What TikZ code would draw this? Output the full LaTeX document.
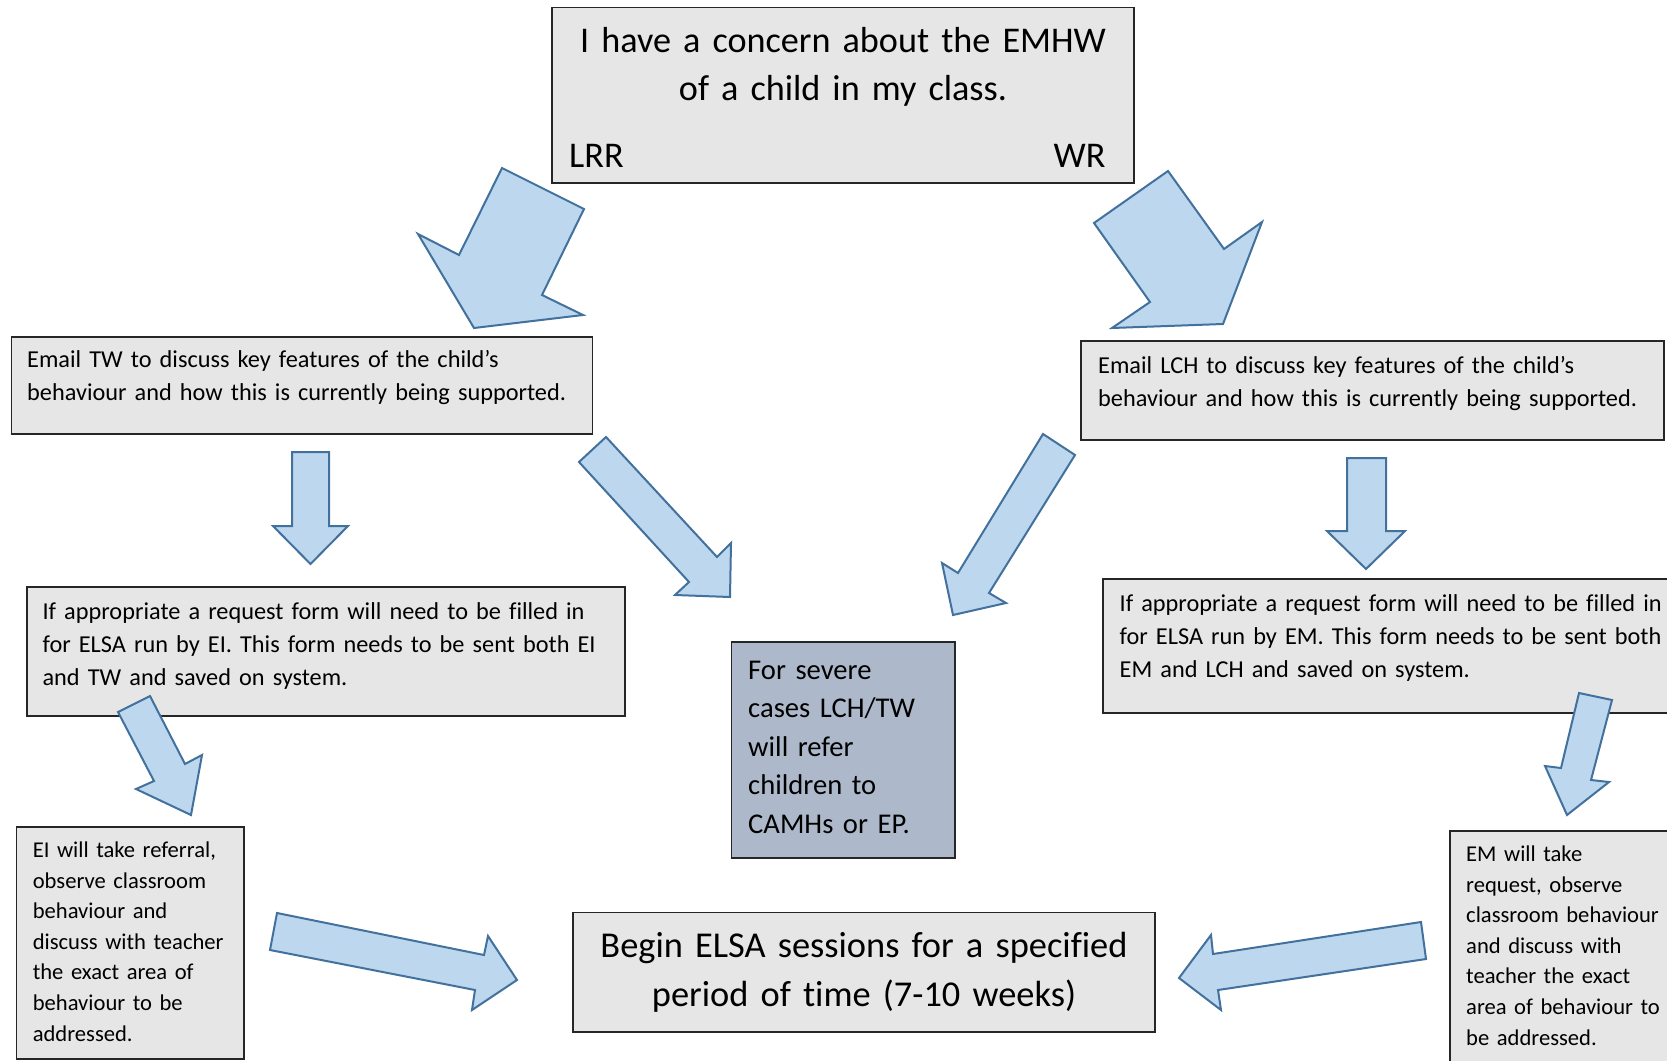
\documentclass[tikz,border=0pt]{standalone}
\usepackage{fontspec}
\setmainfont{Carlito}[Ligatures=NoCommon, WordSpace=0.85]
\definecolor{boxgray}{HTML}{E7E6E6}
\definecolor{sevblue}{HTML}{ADB9CA}
\definecolor{arrfill}{HTML}{BDD7EE}
\definecolor{arrline}{HTML}{41719C}
\newcommand\fsTop{\fontsize{36.2}{48.8}\selectfont}
\newcommand\fsMid{\fontsize{24.3}{33.2}\selectfont}
\newcommand\fsSmall{\fontsize{22.6}{30.6}\selectfont}
\newcommand\fsSev{\fontsize{28.6}{38.6}\selectfont}
\newcommand\fsBeg{\fontsize{36.4}{49.8}\selectfont}
\tikzset{
  panel/.style={draw=black!85, fill=boxgray, line width=1.4pt, anchor=north west, inner sep=0pt, outer sep=0pt},
  blockarrow/.style={fill=arrfill, draw=arrline, line width=2pt, line join=miter},
  txt/.style={anchor=base west, inner sep=0pt, align=left, text width=620pt},
  ctxt/.style={anchor=base, inner sep=0pt, align=center, text width=600pt},
}
\begin{document}
\begin{tikzpicture}[x=1pt,y=-1pt]
\useasboundingbox (0,0) rectangle (1667,1060);
\clip (0,0) rectangle (1667,1060);
\fill[white] (0,0) rectangle (1667,1060);

% boxes
\node[panel, minimum width=582pt, minimum height=175.5pt] (top) at (552,7.5) {};
\node[panel, minimum width=581pt, minimum height=97pt] (tw) at (11.7,337) {};
\node[panel, minimum width=583pt, minimum height=99pt] (lch) at (1081,341) {};
\node[panel, minimum width=598pt, minimum height=129pt] (reqL) at (27,587) {};
\node[panel, minimum width=590pt, minimum height=134pt] (reqR) at (1103,579) {};
\node[panel, fill=sevblue, minimum width=223.5pt, minimum height=216pt] (sev) at (731.5,642) {};
\node[panel, minimum width=227.5pt, minimum height=232pt] (ei) at (16.5,827) {};
\node[panel, minimum width=240pt, minimum height=250pt] (em) at (1450,831) {};
\node[panel, minimum width=582pt, minimum height=119.5pt] (begin) at (573,912.5) {};

% texts
\node[ctxt, font=\fsTop] (toptext) at (843,52) {I have a concern about the EMHW\\of a child in my class.};
\node[anchor=base west, inner sep=0pt, font=\fsTop] (lrr) at (569,167) {LRR};
\node[anchor=base east, inner sep=0pt, font=\fsTop] (wr) at (1105.6,167) {WR};
\node[txt, font=\fsMid] (twtext) at (27,367.5) {Email TW to discuss key features of the child’s\\behaviour and how this is currently being supported.};
\node[txt, font=\fsMid] (lchtext) at (1098,373) {Email LCH to discuss key features of the child’s\\behaviour and how this is currently being supported.};
\node[txt, font=\fsMid] (reqLtext) at (42.4,619.5) {If appropriate a request form will need to be filled in\\for ELSA run by EI. This form needs to be sent both EI\\and TW and saved on system.};
\node[txt, font=\fsMid] (reqRtext) at (1119.5,611.5) {If appropriate a request form will need to be filled in\\for ELSA run by EM. This form needs to be sent both\\EM and LCH and saved on system.};
\node[txt, font=\fsSev] (sevtext) at (748,679) {For severe\\cases LCH/TW\\will refer\\children to\\CAMHs or EP.};
\node[txt, font=\fsSmall] (eitext) at (32.6,857.5) {EI will take referral,\\observe classroom\\behaviour and\\discuss with teacher\\the exact area of\\behaviour to be\\addressed.};
\node[txt, font=\fsSmall] (emtext) at (1466,861.5) {EM will take\\request, observe\\classroom behaviour\\and discuss with\\teacher the exact\\area of behaviour to\\be addressed.};
\node[ctxt, font=\fsBeg] (begintext) at (864,957) {Begin ELSA sessions for a specified\\period of time (7-10 weeks)};

% block arrows
\draw[blockarrow] (502,168) -- (584,209) -- (542,295) -- (583,315) -- (474,328) -- (418,234) -- (459,255) -- cycle;
\draw[blockarrow] (1094,223) -- (1168,171) -- (1224,249) -- (1262,222) -- (1223,324) -- (1112,328) -- (1150,302) -- cycle;
\draw[blockarrow] (292,452) -- (329,452) -- (329,526) -- (348,526) -- (310.5,564) -- (273,526) -- (292,526) -- cycle;
\draw[blockarrow] (1347,458) -- (1386,458) -- (1386,531) -- (1405,531) -- (1366,569) -- (1327,531) -- (1347,531) -- cycle;
\draw[blockarrow] (606,437) -- (579,462) -- (689,582) -- (675,595) -- (730,597) -- (731,543) -- (717,557) -- cycle;
\draw[blockarrow] (1043,434) -- (1075,455) -- (989,593) -- (1006,603) -- (953,615) -- (942,563) -- (958,573) -- cycle;
\draw[blockarrow] (118,712) -- (150,696) -- (185,764) -- (202,755) -- (191,815) -- (136,789) -- (154,781) -- cycle;
\draw[blockarrow] (1579,693) -- (1612,700) -- (1591,780) -- (1609,782) -- (1567,815) -- (1545,766) -- (1561,768) -- cycle;
\draw[blockarrow] (277,913) -- (484,955) -- (488,936) -- (517,980) -- (472,1010) -- (475,990) -- (270,950) -- cycle;
\draw[blockarrow] (1421,922) -- (1426,959) -- (1218,990) -- (1221,1010) -- (1179,978) -- (1211,935) -- (1213,954) -- cycle;
\end{tikzpicture}
\end{document}
